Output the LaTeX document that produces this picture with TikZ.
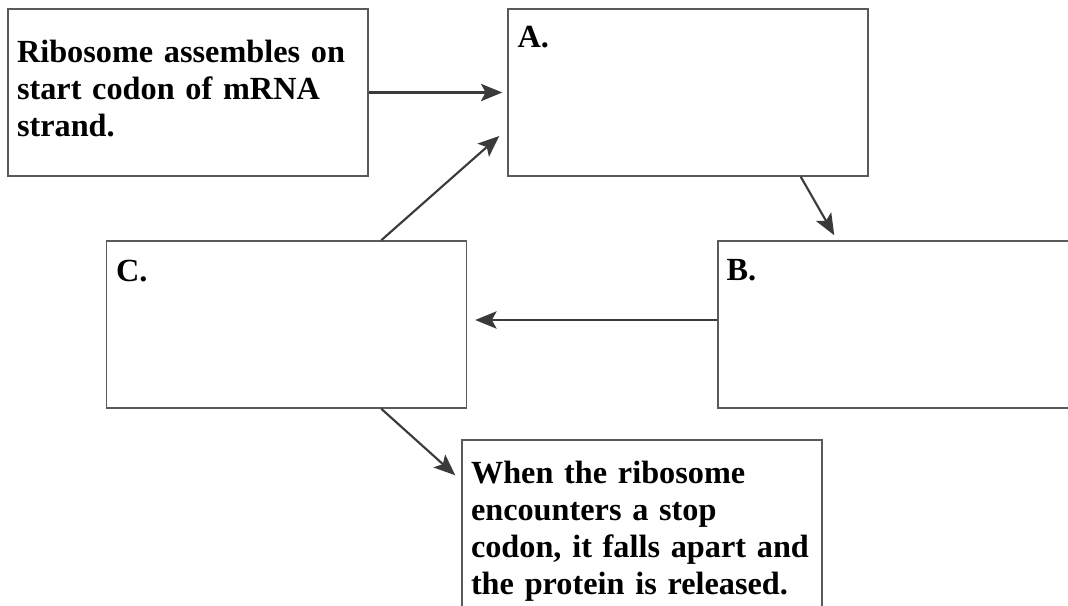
\documentclass[tikz,border=0pt]{standalone}
\usepackage{fontspec}
\setmainfont{Liberation Serif}
\usetikzlibrary{arrows.meta,calc}
\definecolor{boxgray}{HTML}{5A5A5A}
\definecolor{arrowgray}{HTML}{3A3A3A}
\begin{document}
\begin{tikzpicture}[x=0.75pt, y=-0.75pt,
    stage/.style ={rectangle, draw=boxgray, line width=1.1pt, minimum width=270pt, minimum height=125.25pt, inner xsep=6.75pt, text width=256.5pt, align=left, font=\bfseries\fontsize{24.2}{27.75}\selectfont},
    tag/.style ={anchor=base west, inner sep=0pt, font=\bfseries\fontsize{24.2}{27.75}\selectfont},
    flow/.style ={draw=arrowgray, line width=1.6pt, -{Stealth[length=16pt, width=13pt, inset=3.5pt]}}]
   \clip (0,0) rectangle (1068,606);
   \node[stage] (start) at (188,92.5)  {Ribosome assembles on\\start codon of mRNA\\strand.\rule[-6pt]{0pt}{0pt}};
   \node[stage] (A)     at (688,92.5)  {};
   \node[stage] (B)     at (898,324.5) {};
   \node[stage] (C)     at (286.5,324.5) {};
   \node[stage, minimum height=136.5pt] (finish) at (642,531) {When the ribosome\\encounters a stop\\codon, it falls apart and\\the protein is released.};

   \node[tag] (tagA) at ($(A.north west)+(10,39)$) {A.};
   \node[tag] (tagB) at ($(B.north west)+(9,40)$) {B.};
   \node[tag] (tagC) at ($(C.north west)+(10,41)$) {C.};

   \draw[flow, shorten >=3.75pt] (start.east) -- (A.west);
   \draw[flow] ($(A.south east)+(-68,0)$) -- ($(B.north west)+(117,-5)$);
   \draw[flow] ($(B.west)+(0,-4.5)$) -- ($(C.east)+(8,-4.5)$);
   \draw[flow] ($(C.north west)+(275.5,0)$) -- ($(A.west)+(-8,43.5)$);
   \draw[flow] ($(C.south east)+(-86,0)$) -- ($(finish.north west)+(-6,36)$);

 \end{tikzpicture}
\end{document}
